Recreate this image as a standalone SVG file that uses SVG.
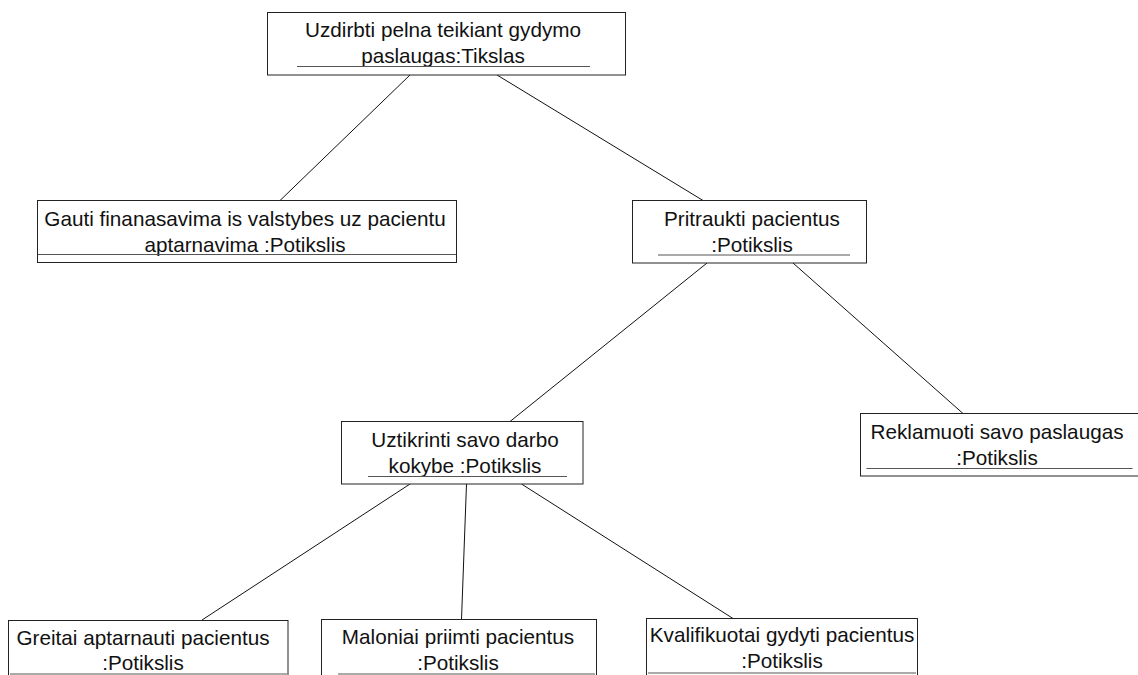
<svg xmlns="http://www.w3.org/2000/svg" width="1138" height="675" viewBox="0 0 1138 675">
  <style>
    .box { fill: #ffffff; stroke: #222222; stroke-width: 1; }
    .ul { stroke: #555555; stroke-width: 1.2; }
    .lbl { font-family: "Liberation Sans", Arial, sans-serif; font-size: 20.7px; fill: #111111; text-anchor: middle; }
    .conn line { stroke: #111111; stroke-width: 1; }
  </style>
  <rect width="1138" height="675" fill="#ffffff"/>

  <!-- goal hierarchy links -->
  <g id="connectors" class="conn">
    <line x1="410" y1="75" x2="280" y2="200.5"/>
    <line x1="497" y1="75" x2="703" y2="200.5"/>
    <line x1="707" y1="263" x2="510" y2="421.5"/>
    <line x1="793" y1="263" x2="963" y2="413.5"/>
    <line x1="410" y1="484" x2="202" y2="620"/>
    <line x1="466.5" y1="484" x2="461.5" y2="619.5"/>
    <line x1="521.5" y1="484" x2="733" y2="618.5"/>
  </g>

  <g id="goal-tikslas">
    <rect class="box" x="267.5" y="12.5" width="358" height="62.5"/>
    <text class="lbl" x="443" y="37">Uzdirbti pelna teikiant gydymo</text>
    <text class="lbl" x="443" y="63">paslaugas:Tikslas</text>
    <line class="ul" x1="297" y1="66.5" x2="590" y2="66.5"/>
  </g>

  <g id="sub-finansavimas">
    <rect class="box" x="37.5" y="200.5" width="419" height="62"/>
    <text class="lbl" x="245" y="226">Gauti finanasavima is valstybes uz pacientu</text>
    <text class="lbl" x="245" y="251.5">aptarnavima :Potikslis</text>
    <line class="ul" x1="38" y1="254.5" x2="456" y2="254.5"/>
  </g>

  <g id="sub-pritraukti">
    <rect class="box" x="632.5" y="200.5" width="234" height="62.5"/>
    <text class="lbl" x="752" y="226">Pritraukti pacientus</text>
    <text class="lbl" x="752" y="252">:Potikslis</text>
    <line class="ul" x1="658" y1="255" x2="850" y2="255"/>
  </g>

  <g id="sub-kokybe">
    <rect class="box" x="341.5" y="421.5" width="241.5" height="62.5"/>
    <text class="lbl" x="465" y="447">Uztikrinti savo darbo</text>
    <text class="lbl" x="465" y="473">kokybe :Potikslis</text>
    <line class="ul" x1="368" y1="476.5" x2="567" y2="476.5"/>
  </g>

  <g id="sub-reklamuoti">
    <rect class="box" x="860.5" y="413.5" width="290" height="62.5"/>
    <text class="lbl" x="997" y="439">Reklamuoti savo paslaugas</text>
    <text class="lbl" x="997" y="465">:Potikslis</text>
    <line class="ul" x1="866.5" y1="468.5" x2="1132.5" y2="468.5"/>
  </g>

  <g id="sub-greitai">
    <rect class="box" x="8.5" y="620.5" width="279.5" height="62"/>
    <text class="lbl" x="143" y="645">Greitai aptarnauti pacientus</text>
    <text class="lbl" x="143" y="670">:Potikslis</text>
    <line class="ul" x1="10" y1="674" x2="287" y2="674"/>
  </g>

  <g id="sub-maloniai">
    <rect class="box" x="321.5" y="619.5" width="275" height="62"/>
    <text class="lbl" x="458" y="644">Maloniai priimti pacientus</text>
    <text class="lbl" x="458" y="669.5">:Potikslis</text>
    <line class="ul" x1="338" y1="674" x2="595" y2="674"/>
  </g>

  <g id="sub-kvalifikuotai">
    <rect class="box" x="646.5" y="618.5" width="271" height="62"/>
    <text class="lbl" x="782" y="642">Kvalifikuotai gydyti pacientus</text>
    <text class="lbl" x="782" y="668">:Potikslis</text>
    <line class="ul" x1="648" y1="673" x2="916" y2="673"/>
  </g>
</svg>
